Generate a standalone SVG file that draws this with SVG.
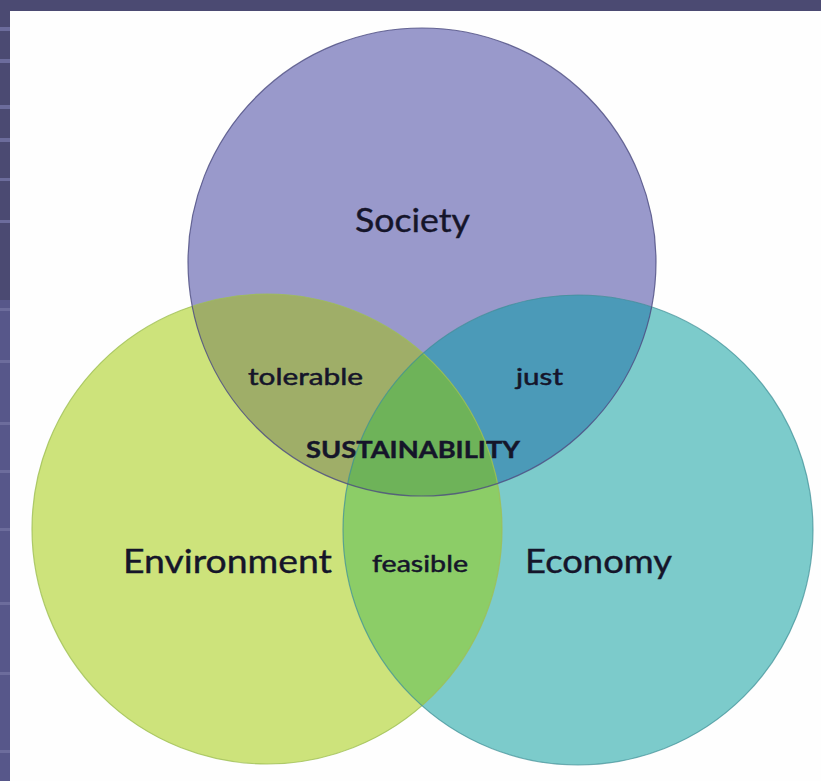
<svg xmlns="http://www.w3.org/2000/svg" width="821" height="781" viewBox="0 0 821 781">
<style>
.lbl{font-family:Lato,"Open Sans","Liberation Sans",sans-serif;fill:#15152a;stroke:#15152a;stroke-width:0.4;text-anchor:start}
.big{font-size:32px}
.small{font-size:24px;stroke-width:0.5}
.bold{font-size:22px;font-weight:bold}
.band{fill:#6c6c9c}
</style>
<defs>
<clipPath id="cS"><circle cx="422" cy="262" r="234"/></clipPath>
<clipPath id="cE"><circle cx="267" cy="529" r="235"/></clipPath>
<clipPath id="cC"><circle cx="578" cy="530" r="235"/></clipPath>
</defs>
<g id="background">
<rect x="0" y="0" width="821" height="781" fill="#4b4a72"/>
<rect x="0" y="300" width="10" height="481" fill="#57578a"/>
<rect class="band" x="0" y="27" width="10" height="4"/>
<rect class="band" x="0" y="59" width="10" height="4"/>
<rect class="band" x="0" y="105" width="10" height="4"/>
<rect class="band" x="0" y="138" width="10" height="4"/>
<rect class="band" x="0" y="178" width="10" height="3"/>
<rect class="band" x="0" y="220" width="10" height="3"/>
<rect class="band" x="0" y="308" width="10" height="3"/>
<rect class="band" x="0" y="360" width="10" height="3"/>
<rect class="band" x="0" y="422" width="10" height="3"/>
<rect class="band" x="0" y="470" width="10" height="3"/>
<rect class="band" x="0" y="528" width="10" height="3"/>
<rect class="band" x="0" y="602" width="10" height="3"/>
<rect class="band" x="0" y="672" width="10" height="3"/>
<rect class="band" x="0" y="750" width="10" height="3"/>
<rect x="10" y="11" width="811" height="770" fill="#fefefe"/>
</g>
<g id="environment">
<circle cx="267" cy="529" r="235" fill="#cde37b"/>
</g>
<g id="economy">
<circle cx="578" cy="530" r="235" fill="#7ccbcb"/>
</g>
<g id="society">
<circle cx="422" cy="262" r="234" fill="#9999cb"/>
</g>
<g id="overlaps">
<circle cx="267" cy="529" r="235" fill="#9fae68" clip-path="url(#cS)"/>
<circle cx="578" cy="530" r="235" fill="#4b9ab8" clip-path="url(#cS)"/>
<circle cx="578" cy="530" r="235" fill="#8ccd67" clip-path="url(#cE)"/>
<g clip-path="url(#cS)">
<circle cx="578" cy="530" r="235" fill="#6eb359" clip-path="url(#cE)"/>
</g>
</g>
<g id="outlines" fill="none" stroke-width="1.2">
<circle cx="267" cy="529" r="235" stroke="#9fbf55" stroke-opacity="0.8"/>
<circle cx="578" cy="530" r="235" stroke="#3f8f95" stroke-opacity="0.7"/>
<circle cx="422" cy="262" r="234" stroke="#4b4b80" stroke-opacity="0.8"/>
</g>
<g id="labels">
<text class="lbl big" x="355" y="232" textLength="115" lengthAdjust="spacingAndGlyphs">Society</text>
<text class="lbl big" x="123" y="573" textLength="209" lengthAdjust="spacingAndGlyphs">Environment</text>
<text class="lbl big" x="525" y="573" textLength="147" lengthAdjust="spacingAndGlyphs">Economy</text>
<text class="lbl small" x="248" y="385" textLength="115" lengthAdjust="spacingAndGlyphs">tolerable</text>
<text class="lbl small" x="516" y="385" textLength="47" lengthAdjust="spacingAndGlyphs">just</text>
<text class="lbl small" x="372" y="572" textLength="96" lengthAdjust="spacingAndGlyphs">feasible</text>
<text class="lbl bold" x="306" y="458" textLength="214" lengthAdjust="spacingAndGlyphs">SUSTAINABILITY</text>
</g>
</svg>
